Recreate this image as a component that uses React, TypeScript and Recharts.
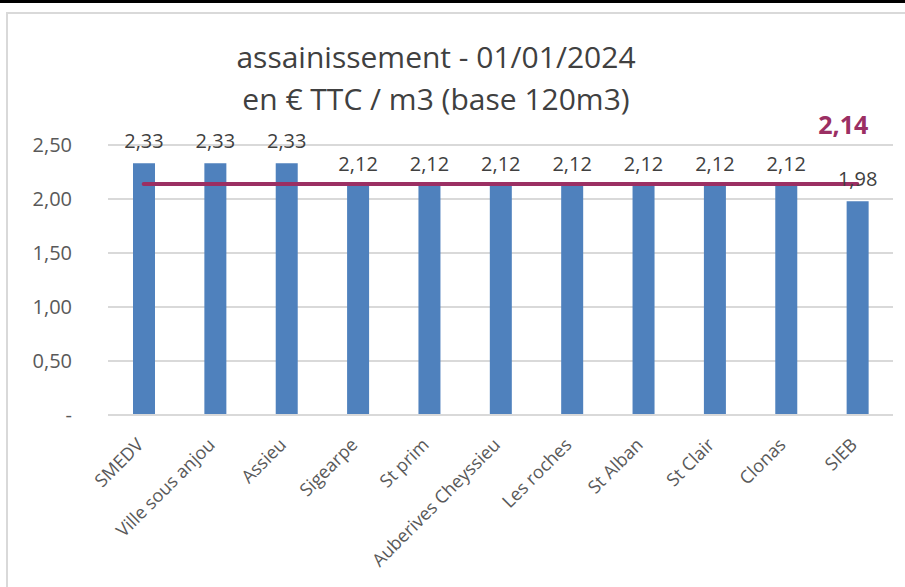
import React from "react";
import {
  ComposedChart,
  Bar,
  Line,
  XAxis,
  YAxis,
  CartesianGrid,
  LabelList,
} from "recharts";

const communes = [
  "SMEDV",
  "Ville sous anjou",
  "Assieu",
  "Sigearpe",
  "St prim",
  "Auberives Cheyssieu",
  "Les roches",
  "St Alban",
  "St Clair",
  "Clonas",
  "SIEB",
];
const prix = [2.33, 2.33, 2.33, 2.12, 2.12, 2.12, 2.12, 2.12, 2.12, 2.12, 1.98];
const moyenne = 2.14;
const yTicks = [0, 0.5, 1, 1.5, 2, 2.5];

const data = communes.map((nom, i) => ({ nom, prix: prix[i], moyenne }));

const FONT = "'Open Sans', 'Noto Sans', sans-serif";
const BLEU = "#4F81BD";
const BORDEAUX = "#9B2F63";

const fmt = (v: number) => (v === 0 ? "-" : v.toFixed(2).replace(".", ","));

const YTick = (props: any) => {
  const { y, payload } = props;
  return (
    <text x={72} y={y} dy="0.35em" textAnchor="end" fill="#595959" fontSize={20} fontFamily={FONT}>
      {fmt(payload.value)}
    </text>
  );
};

const XTick = (props: any) => {
  const { x, y, payload } = props;
  return (
    <g transform={`translate(${x - 8},${y + 14}) rotate(-45)`}>
      <text x={0} y={0} dy="0.7em" textAnchor="end" fill="#595959" fontSize={18} fontFamily={FONT}>
        {payload.value}
      </text>
    </g>
  );
};

const ValueLabel = (props: any) => {
  const { x, y, width, value } = props;
  return (
    <text
      x={x + width / 2}
      y={y - 15}
      textAnchor="middle"
      fill="#404040"
      fontSize={20}
      fontFamily={FONT}
    >
      {fmt(value)}
    </text>
  );
};

const MoyenneLabel = (props: any) => {
  const { x, y, index, value } = props;
  if (index !== communes.length - 1) return null;
  return (
    <text
      x={x - 14}
      y={y - 50}
      textAnchor="middle"
      fill={BORDEAUX}
      fontSize={25}
      fontWeight="bold"
      fontFamily={FONT}
    >
      {fmt(value)}
    </text>
  );
};

export default function App() {
  return (
    <div
      style={{
        position: "fixed",
        left: 0,
        top: 0,
        width: 905,
        height: 587,
        overflow: "hidden",
        background: "#fff",
        fontFamily: FONT,
      }}
    >
      <div style={{ position: "absolute", left: 0, top: 0, width: 905, height: 3, background: "#000" }} />
      <div
        style={{
          position: "absolute",
          left: 6,
          top: 12,
          width: 960,
          height: 640,
          borderTop: "2px solid #D9D9D9",
          borderLeft: "2px solid #D9D9D9",
        }}
      />
      <div
        style={{
          position: "absolute",
          left: 0,
          top: 36,
          width: 872,
          textAlign: "center",
          color: "#404040",
          fontSize: 30,
          lineHeight: "42px",
        }}
      >
        assainissement - 01/01/2024
        <br />
        en € TTC / m3 (base 120m3)
      </div>
      <div style={{ position: "absolute", left: 0, top: 0 }}>
        <ComposedChart
          width={905}
          height={587}
          data={data}
          margin={{ top: 145, right: 12, bottom: 0, left: 0 }}
        >
          <CartesianGrid vertical={false} stroke="#D9D9D9" strokeWidth={2} />
          <XAxis
            dataKey="nom"
            interval={0}
            height={172}
            tickLine={false}
            axisLine={{ stroke: "#D9D9D9", strokeWidth: 2 }}
            tick={<XTick />}
          />
          <YAxis
            width={108}
            domain={[0, 2.5]}
            ticks={yTicks}
            axisLine={false}
            tickLine={false}
            tick={<YTick />}
          />
          <Bar dataKey="prix" fill={BLEU} barSize={22} isAnimationActive={false}>
            <LabelList dataKey="prix" content={<ValueLabel />} />
          </Bar>
          <Line
            dataKey="moyenne"
            type="linear"
            stroke={BORDEAUX}
            strokeWidth={4}
            strokeLinecap="round"
            dot={false}
            activeDot={false}
            isAnimationActive={false}
          >
            <LabelList dataKey="moyenne" content={<MoyenneLabel />} />
          </Line>
        </ComposedChart>
      </div>
    </div>
  );
}
